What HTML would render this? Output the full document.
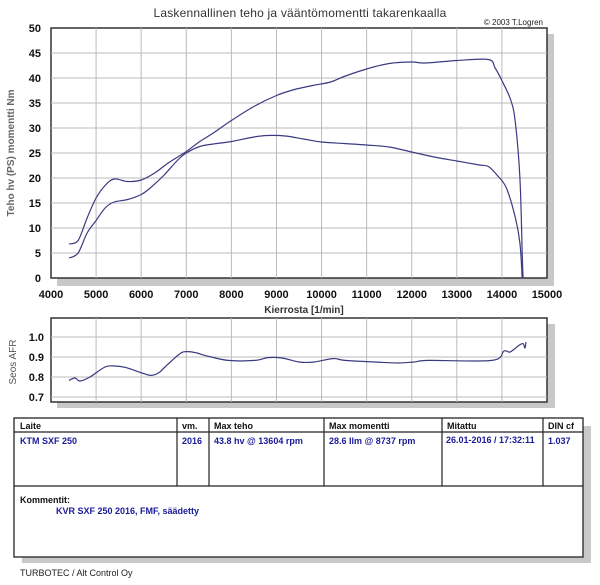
<!DOCTYPE html>
<html><head><meta charset="utf-8"><style>
body{margin:0;background:#fff;width:600px;height:580px;overflow:hidden;font-family:"Liberation Sans",sans-serif}
</style></head><body>
<svg id="s" width="600" height="580" xmlns="http://www.w3.org/2000/svg" font-family="Liberation Sans, sans-serif">
<text x="300" y="17" text-anchor="middle" font-size="12" fill="#333" letter-spacing="0.2">Laskennallinen teho ja vääntömomentti takarenkaalla</text>
<text x="543" y="25" text-anchor="end" font-size="8" fill="#222">© 2003 T.Logren</text>
<rect x="57" y="34" width="497" height="252" fill="#c8c8c8"/>
<rect x="51" y="28" width="496" height="250" fill="#fff" stroke="#333" stroke-width="1.5"/>
<g id="g1" stroke="#bbb" stroke-width="1"></g>
<g id="lab" font-size="11" font-weight="bold" fill="#111"></g>
<text transform="translate(14,153) rotate(-90)" text-anchor="middle" font-size="10" font-weight="bold" fill="#666">Teho hv (PS) momentti Nm</text>
<text x="304" y="313" text-anchor="middle" font-size="10" font-weight="bold" fill="#333">Kierrosta [1/min]</text>
<path id="pw" fill="none" stroke="#3a3a80" stroke-width="1.2"/>
<path id="tq" fill="none" stroke="#3a3a80" stroke-width="1.2"/>
<rect x="57" y="324" width="498" height="84" fill="#c8c8c8"/>
<rect x="51" y="318" width="496" height="84" fill="#fff" stroke="#333" stroke-width="1.5"/>
<g id="g2" stroke="#bbb" stroke-width="1"></g>
<g font-size="11" font-weight="bold" fill="#111" text-anchor="end">
<text x="44" y="341">1.0</text><text x="44" y="361">0.9</text><text x="44" y="381">0.8</text><text x="44" y="401">0.7</text></g>
<text transform="translate(16,362) rotate(-90)" text-anchor="middle" font-size="10" fill="#555">Seos AFR</text>
<path id="af" fill="none" stroke="#3a3a80" stroke-width="1.2"/>
<rect x="22" y="426" width="569" height="137" fill="#c8c8c8"/>
<rect x="14" y="418" width="569" height="139" fill="#fff" stroke="#222" stroke-width="1.3"/>
<g stroke="#222" stroke-width="1.2">
<line x1="14" y1="432" x2="583" y2="432"/><line x1="14" y1="486" x2="583" y2="486"/>
<line x1="177" y1="418" x2="177" y2="486"/><line x1="209" y1="418" x2="209" y2="486"/>
<line x1="324" y1="418" x2="324" y2="486"/><line x1="442" y1="418" x2="442" y2="486"/>
<line x1="543" y1="418" x2="543" y2="486"/></g>
<g font-size="9" font-weight="bold" fill="#111">
<text x="20" y="429">Laite</text><text x="182" y="429">vm.</text><text x="214" y="429">Max teho</text>
<text x="329" y="429">Max momentti</text><text x="447" y="429">Mitattu</text><text x="548" y="429">DIN cf</text>
<text x="20" y="503">Kommentit:</text></g>
<g font-size="9" font-weight="bold" fill="#1a1a99">
<text x="20" y="444">KTM SXF 250</text><text x="182" y="444">2016</text><text x="214" y="444">43.8 hv @ 13604 rpm</text>
<text x="329" y="444">28.6 Ilm @ 8737 rpm</text><text x="446" y="443">26.01-2016 / 17:32:11</text><text x="548" y="444">1.037</text>
<text x="56" y="514">KVR SXF 250 2016, FMF, säädetty</text></g>
<text x="20" y="576" font-size="9" fill="#222">TURBOTEC / Alt Control Oy</text>
</svg>
<script>
var X=function(r){return 51+(r-4000)*0.04509;},Y=function(v){return 278-v*5;};
var g1=document.getElementById('g1'),g2=document.getElementById('g2'),lab=document.getElementById('lab'),ns='http://www.w3.org/2000/svg';
function el(p,t,a,txt){var e=document.createElementNS(ns,t);for(var k in a)e.setAttribute(k,a[k]);if(txt)e.textContent=txt;p.appendChild(e);}
for(var r=4000;r<=15000;r+=1000){var x=X(r);if(r>4000&&r<15000){el(g1,'line',{x1:x,y1:28,x2:x,y2:278});el(g2,'line',{x1:x,y1:318,x2:x,y2:402});}
el(lab,'text',{x:x,y:298,'text-anchor':'middle'},''+r);}
for(var v=0;v<=50;v+=5){var y=Y(v);if(v>0&&v<50)el(g1,'line',{x1:51,y1:y,x2:547,y2:y});el(lab,'text',{x:41,y:y+4,'text-anchor':'end'},''+v);}
[1.0,0.9,0.8].forEach(function(a){var y=397-(a-0.7)*200;el(g2,'line',{x1:51,y1:y,x2:547,y2:y});});
el(g2,'line',{x1:51,y1:397,x2:547,y2:397});
function smooth(pts){var d='M'+pts[0][0].toFixed(1)+' '+pts[0][1].toFixed(1);
for(var i=0;i<pts.length-1;i++){var p0=pts[i-1]||pts[i],p1=pts[i],p2=pts[i+1],p3=pts[i+2]||p2;
var c1=[p1[0]+(p2[0]-p0[0])/6,p1[1]+(p2[1]-p0[1])/6],c2=[p2[0]-(p3[0]-p1[0])/6,p2[1]-(p3[1]-p1[1])/6];
d+=' C'+c1[0].toFixed(1)+' '+c1[1].toFixed(1)+' '+c2[0].toFixed(1)+' '+c2[1].toFixed(1)+' '+p2[0].toFixed(1)+' '+p2[1].toFixed(1);}return d;}
function P(d){return smooth(d.map(function(p){return [X(p[0]),Y(p[1])];}));}
var pw=[[4400,6.8],[4600,7.5],[4800,12],[5000,16],[5200,18.5],[5400,19.8],[5700,19.3],[6000,19.6],[6300,21],[6600,23],[7000,25.3],[7300,27.3],[7600,29],[8000,31.5],[8500,34.3],[9000,36.5],[9400,37.7],[9800,38.5],[10200,39.2],[10500,40.3],[11000,41.8],[11500,42.9],[12000,43.2],[12300,43.0],[13000,43.5],[13700,43.7],[13850,42],[14000,39.5],[14200,35.5],[14300,31],[14400,20],[14450,5],[14470,0]];
var tq=[[4400,4],[4600,5],[4800,9],[5000,11.5],[5200,14],[5400,15.2],[5700,15.7],[6000,16.7],[6200,18],[6500,20.5],[6800,23.5],[7000,25],[7300,26.3],[7600,26.8],[8000,27.3],[8500,28.2],[8800,28.5],[9200,28.4],[9600,27.8],[10000,27.2],[10500,26.9],[11000,26.6],[11500,26.2],[12000,25.2],[12500,24.2],[13000,23.4],[13500,22.6],[13700,22.3],[13900,20.5],[14100,18],[14300,12],[14400,7],[14450,0]];
document.getElementById('pw').setAttribute('d',P(pw));
document.getElementById('tq').setAttribute('d',P(tq));
var af=[[69,.783],[75,.795],[80,.78],[90,.8],[105,.85],[115,.855],[126,.847],[142,.82],[151,.808],[159,.822],[165,.85],[180,.917],[188,.927],[197,.92],[205,.908],[228,.883],[255,.883],[268,.897],[282,.895],[299,.875],[314,.875],[333,.892],[345,.883],[375,.875],[398,.87],[414,.875],[429,.883],[492,.883],[504,.93],[510,.925],[519,.958],[523,.967],[525,.945],[526,.975]];
document.getElementById('af').setAttribute('d',smooth(af.map(function(p){return [p[0],397-(p[1]-0.7)*200];})));
</script>
</body></html>
